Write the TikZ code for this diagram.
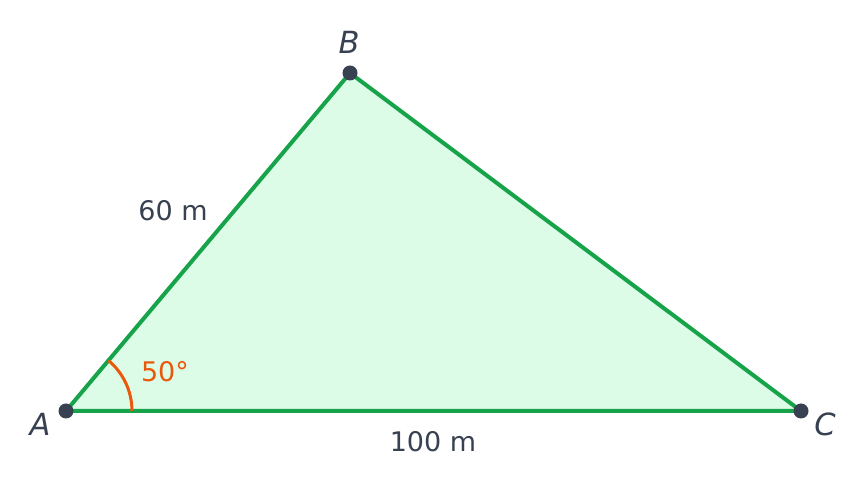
\documentclass[tikz,border=0pt]{standalone}
\usepackage{fontspec}
\setmainfont{DejaVu Sans}
\definecolor{sidegreen}{HTML}{16A34A}
\definecolor{fillgreen}{HTML}{DCFCE7}
\definecolor{inkdark}{HTML}{374151}
\definecolor{angleorange}{HTML}{EA580C}
\begin{document}
\begin{tikzpicture}[x=1pt, y=1pt,
    vertex/.style={circle, fill=inkdark, inner sep=0pt, minimum size=15pt},
    vlabel/.style={text=inkdark, font=\fontsize{30.5}{32}\selectfont\itshape},
    slabel/.style={text=inkdark, font=\fontsize{27}{30}\selectfont}]
            \useasboundingbox (0,0) rectangle (867,492);

            % Triangle
            \coordinate (A) at (66,81);
            \coordinate (B) at (350,419);
            \coordinate (C) at (801,81);
            \fill [fillgreen] (A) -- (B) -- (C) -- cycle;
            \draw [sidegreen, line width=4pt, line join=round] (A) -- (B) -- (C) -- cycle;

            % Angle at A
            \draw [angleorange, line width=3pt] ([xshift=66pt]A) arc [start angle=0, end angle=50, radius=66pt];
            \node [text=angleorange, font=\fontsize{27}{30}\selectfont] (angA) at (165,120) {50°};

            % Vertices
            \node [vertex] (dotA) at (A) {};
            \node [vertex] (dotB) at (B) {};
            \node [vertex] (dotC) at (C) {};
            \node [vlabel] (labA) at (40,68) {A};
            \node [vlabel] (labB) at (349,450) {B};
            \node [vlabel] (labC) at (825,68) {C};

            % Sides
            \node [slabel] (sideAB) at (173,281) {60 m};
            \node [slabel] (sideAC) at (433,50) {100 m};
        \end{tikzpicture}
\end{document}
